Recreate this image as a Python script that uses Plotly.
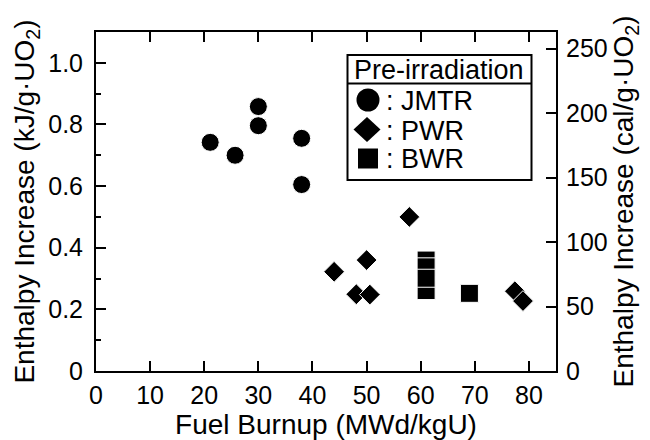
import plotly.graph_objects as go

# Data (Fuel burnup in MWd/kgU, enthalpy increase in kJ/g-UO2)
jmtr_burnup = [21.1, 25.7, 30.0, 30.0, 38.0, 38.0]
jmtr_enthalpy = [0.742, 0.700, 0.858, 0.796, 0.755, 0.605]

pwr_burnup = [44.0, 50.0, 48.1, 50.6, 57.9, 77.4, 78.9]
pwr_enthalpy = [0.322, 0.360, 0.249, 0.248, 0.500, 0.259, 0.227]

bwr_burnup = [61.0, 61.0, 61.0, 61.0, 69.0]
bwr_enthalpy = [0.360, 0.338, 0.261, 0.301, 0.252]

x_ticks = [0, 10, 20, 30, 40, 50, 60, 70, 80]
y_ticks = [0, 0.2, 0.4, 0.6, 0.8, 1.0]
y_ticktext = ["0", "0.2", "0.4", "0.6", "0.8", "1.0"]
y2_ticks = [0, 50, 100, 150, 200, 250]

legend_title = "Pre-irradiation"
legend_labels = [": JMTR", ": PWR", ": BWR"]

KJ_PER_CAL = 0.004184
Y_MAX = 1.1

FAM = "Liberation Sans, Arial, Helvetica, sans-serif"
TICK_FONT = dict(family=FAM, size=25, color="black")
TITLE_FONT = dict(family=FAM, size=28, color="black")
LEG_FONT = dict(family=FAM, size=27, color="black")

# The page body adds an 8 px margin, so the figure is 8 px smaller and
# its margins are reduced accordingly (plot area stays at 96..556 x 32..371).
OFF = 8
FIG_W, FIG_H = 650 - OFF, 440 - OFF

fig = go.Figure()
edge = dict(color="white", width=1)
fig.add_trace(go.Scatter(x=jmtr_burnup, y=jmtr_enthalpy, mode="markers", name="JMTR",
                         marker=dict(symbol="circle", size=18, color="black", line=edge)))
fig.add_trace(go.Scatter(x=pwr_burnup, y=pwr_enthalpy, mode="markers", name="PWR",
                         marker=dict(symbol="diamond", size=16, color="black", line=edge)))
fig.add_trace(go.Scatter(x=bwr_burnup, y=bwr_enthalpy, mode="markers", name="BWR",
                         marker=dict(symbol="square", size=18, color="black", line=edge)))
# invisible trace to carry the right axis
fig.add_trace(go.Scatter(x=[None], y=[None], yaxis="y2", showlegend=False, hoverinfo="skip"))

axis_common = dict(ticks="inside", ticklen=10, tickwidth=2, tickcolor="black",
                   showline=True, linecolor="black", linewidth=2, showgrid=False,
                   zeroline=False, tickfont=TICK_FONT, automargin=False)

fig.update_layout(
    template="none",
    width=FIG_W, height=FIG_H,
    margin=dict(l=96 - OFF, r=94, t=32 - OFF, b=69, pad=0),
    paper_bgcolor="white", plot_bgcolor="white",
    showlegend=False,
    xaxis=dict(range=[0, 85], tickvals=x_ticks, mirror="ticks", ticklabelstandoff=1,
               title=dict(text="Fuel Burnup (MWd/kgU)", font=TITLE_FONT, standoff=5),
               **axis_common),
    yaxis=dict(range=[0, Y_MAX], tickvals=y_ticks, ticktext=y_ticktext, ticklabelstandoff=6,
               minor=dict(dtick=0.1, tick0=0, ticks="inside", ticklen=5, tickwidth=2,
                          tickcolor="black", showgrid=False),
               title=dict(text="Enthalpy Increase (kJ/g·UO<sub>2</sub>)", font=TITLE_FONT, standoff=5),
               **axis_common),
    yaxis2=dict(overlaying="y", side="right", range=[0, Y_MAX / KJ_PER_CAL], tickvals=y2_ticks,
                ticklabelstandoff=3,
                title=dict(text="Enthalpy Increase (cal/g·UO<sub>2</sub>)", font=TITLE_FONT, standoff=5),
                **axis_common),
)

# Legend box (manual, to reproduce the boxed header layout); page pixels -> paper
PX0, PY0, PW, PH = 96, 32, 460, 339
def px(x):
    return (x - PX0) / PW
def py(y):
    return (PY0 + PH - y) / PH

fig.add_shape(type="rect", xref="paper", yref="paper",
              x0=px(347.5), x1=px(531.5), y0=py(180), y1=py(55),
              line=dict(color="black", width=2), fillcolor="white", layer="above")
fig.add_shape(type="line", xref="paper", yref="paper",
              x0=px(347.5), x1=px(531.5), y0=py(83.5), y1=py(83.5),
              line=dict(color="black", width=2), layer="above")
fig.add_annotation(xref="paper", yref="paper", x=px(438.5), y=py(70), text=legend_title,
                   showarrow=False, xanchor="center", yanchor="middle", font=LEG_FONT)

# legend keys
key = dict(xref="paper", yref="paper", fillcolor="black", line=dict(width=0), layer="above")
cx, r = 368, 11.5
fig.add_shape(type="circle", x0=px(cx - r), x1=px(cx + r), y0=py(100 + r), y1=py(100 - r), **key)
dcx, dcy, dw, dh = 367, 129.5, 13.5, 12.5
fig.add_shape(type="path",
              path=(f"M {px(dcx - dw)} {py(dcy)} L {px(dcx)} {py(dcy - dh)} "
                    f"L {px(dcx + dw)} {py(dcy)} L {px(dcx)} {py(dcy + dh)} Z"), **key)
sq = 10
fig.add_shape(type="rect", x0=px(cx - sq), x1=px(cx + sq), y0=py(158.5 + sq), y1=py(158.5 - sq), **key)

row_y = [101, 131, 159]
for lab, yy in zip(legend_labels, row_y):
    fig.add_annotation(xref="paper", yref="paper", x=px(384), y=py(yy), text=lab,
                       showarrow=False, xanchor="left", yanchor="middle", font=LEG_FONT)

fig.write_html("out.html")
